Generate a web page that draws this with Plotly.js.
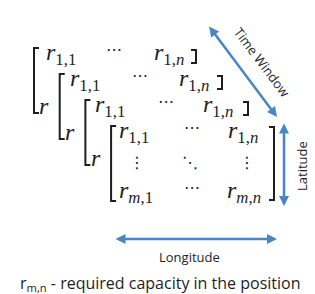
<!DOCTYPE html>
<html>
<head>
<meta charset="utf-8">
<script src="https://cdn.plot.ly/plotly-3.0.1.min.js"></script>
<style>html,body{margin:0;padding:0;background:#fff;}#chart{width:315px;height:294px;}</style>
</head>
<body>
<div id="chart"></div>
<script>
// ---- content ----
const layers = [0, 1, 2, 3];               // stacked matrices, back to front
const topRowCells = ['<i>r</i><sub>1,1</sub>', '\u22EF', '<i>r</i><sub>1,<i>n</i></sub>'];
const middleRowCells = ['\u22EE', '\u22F1', '\u22EE'];
const bottomRowCells = ['<i>r</i><sub><i>m</i>,1</sub>', '\u22EF', '<i>r</i><sub><i>m</i>,<i>n</i></sub>'];
const hiddenRowCell = '<i>r</i>';
const axisLabels = ['Time Window', 'Latitude', 'Longitude'];
const captionText = 'r<sub>m,n</sub> - required capacity in the position';

// ---- layout (pixel space) ----
const ink = '#1e1e1e';
const blue = '#4a86c6';
const mathFont = {family: 'Liberation Serif, DejaVu Serif, serif', size: 24, color: ink};
const dotFont = {family: 'DejaVu Sans, sans-serif', size: 16, color: ink};
const front = layers[layers.length - 1];

const annotations = [];
const shapes = [];

function bracketPath(x, top, bottom, tick, dir) {
  return 'M ' + (x + dir * tick) + ' ' + top + ' L ' + x + ' ' + top +
         ' L ' + x + ' ' + bottom + ' L ' + (x + dir * tick) + ' ' + bottom;
}
function txt(x, y, t, font, xanchor) {
  annotations.push({x: x, y: y, xref: 'x', yref: 'y', text: t, showarrow: false,
    xanchor: xanchor || 'left', yanchor: 'middle', font: font, borderpad: 0});
}

layers.forEach(function (k) {
  const isFront = k === front;
  const rowY = 54 + 26 * k;
  // left bracket
  const lx = 34 + 25.7 * k;
  const top = 48 + 26 * k;
  const bottom = isFront ? 201 : 113 + 26 * k;
  shapes.push({type: 'path', xref: 'x', yref: 'y', path: bracketPath(lx, top, bottom, 5, 1),
               line: {color: ink, width: 2}});
  // right bracket
  const rx = 196 + 26 * k;
  const rTop = isFront ? 127 : 50 + 26 * k;
  const rBot = isFront ? 200 : 63 + 26 * k;
  shapes.push({type: 'path', xref: 'x', yref: 'y', path: bracketPath(rx, rTop, rBot, 5, -1),
               line: {color: ink, width: 2}});
  // top row
  txt(45 + 24.4 * k, rowY, topRowCells[0], mathFont);
  txt(114 + 26 * k, rowY - 5, topRowCells[1], dotFont, 'center');
  txt(153 + 24.7 * k, rowY, topRowCells[2], mathFont);
  if (!isFront) {
    txt(38 + 26 * k, 106 + 26 * k, hiddenRowCell, mathFont);
  } else {
    txt(137, 162, middleRowCells[0], dotFont, 'center');
    txt(190, 162, middleRowCells[1], dotFont, 'center');
    txt(247, 162, middleRowCells[2], dotFont, 'center');
    txt(118, 192, bottomRowCells[0], mathFont);
    txt(192, 187, bottomRowCells[1], dotFont, 'center');
    txt(226, 192, bottomRowCells[2], mathFont);
  }
});

// arrows (double-headed)
function dblArrow(x0, y0, x1, y1) {
  annotations.push({x: x1, y: y1, ax: x0, ay: y0, xref: 'x', yref: 'y', axref: 'x', ayref: 'y',
    text: '', showarrow: true, arrowside: 'end+start', arrowhead: 2, startarrowhead: 2,
    arrowsize: 0.8, startarrowsize: 0.8, arrowwidth: 2.5, arrowcolor: blue});
}
dblArrow(208, 25, 277, 117);   // time window
dblArrow(284, 122, 284, 206);  // latitude
dblArrow(114, 239, 277, 239);  // longitude

const labelFont = {family: 'Open Sans, Noto Sans, sans-serif', size: 13, color: ink};
annotations.push({x: 262, y: 62, xref: 'x', yref: 'y', text: axisLabels[0], showarrow: false,
  textangle: 53, font: labelFont});
annotations.push({x: 302, y: 166, xref: 'x', yref: 'y', text: axisLabels[1], showarrow: false,
  textangle: -90, font: labelFont});
annotations.push({x: 189, y: 257, xref: 'x', yref: 'y', text: axisLabels[2], showarrow: false,
  font: labelFont});
annotations.push({x: 160, y: 283, xref: 'x', yref: 'y', text: captionText, showarrow: false,
  font: {family: 'Open Sans, Noto Sans, sans-serif', size: 16, color: ink}});

const layout = {
  width: 315, height: 294,
  margin: {l: 0, r: 0, t: 0, b: 0},
  paper_bgcolor: '#ffffff', plot_bgcolor: '#ffffff',
  xaxis: {range: [0, 315], visible: false, fixedrange: true},
  yaxis: {range: [294, 0], visible: false, fixedrange: true},
  showlegend: false,
  annotations: annotations,
  shapes: shapes
};

Plotly.newPlot('chart', [], layout, {staticPlot: true, displayModeBar: false});
</script>
</body>
</html>
